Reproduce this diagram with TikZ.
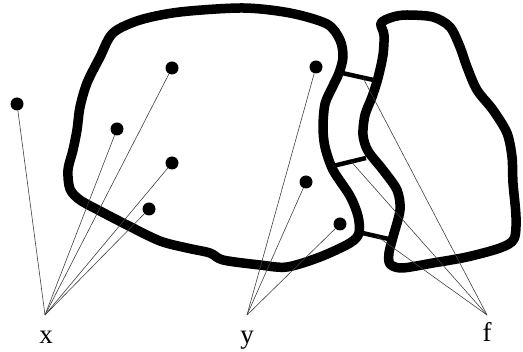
\documentclass[tikz,border=0pt]{standalone}
\usepackage{fontspec}
\setmainfont{Liberation Serif}
\begin{document}
\begin{tikzpicture}[x=1pt,y=-1pt,
  blob/.style={line width=9.5pt,line join=round,line cap=round},
  bar/.style={line width=4.5pt},
  dot/.style={circle,fill=black,inner sep=0pt,minimum size=13pt},
  thin/.style={line width=0.6pt,draw=black!75},
  lbl/.style={font=\fontsize{27}{30}\selectfont,inner sep=0pt}]
\useasboundingbox (0,0) rectangle (523,352);
% left blob
\draw[blob] plot[smooth cycle,tension=0.5] coordinates {
 (113,33) (140,20) (180,12) (243,8) (290,13) (327,24) (340,40) (343,57) (339,73)
 (332,88) (325,104) (323,127) (325,147) (333,170) (350,196) (358,216) (359,233)
 (350,243) (320,257) (287,267) (260,265) (223,260) (210,253) (187,248) (160,241)
 (127,225) (100,211) (80,200) (70,189) (68,170) (73,150) (77,130) (80,107) (87,83) (100,57)};
% right blob
\draw[blob] plot[smooth cycle,tension=0.5] coordinates {
 (381,23) (393,17) (407,15) (433,17) (450,27) (460,47) (467,67) (477,90) (493,110)
 (507,133) (512,157) (513,183) (516,217) (514,239) (500,248) (467,257) (433,263)
 (402,268) (390,264) (389,253) (393,237) (400,210) (397,190) (383,170) (368,151)
 (363,135) (365,115) (372,97) (378,78) (383,55) (384,35)};
% bars
\coordinate (t1) at (342,73); \coordinate (t2) at (378,81);
\coordinate (m1) at (333,166); \coordinate (m2) at (366,158);
\coordinate (b1) at (358,232); \coordinate (b2) at (393,240);
\draw[bar] (t1) -- coordinate[pos=0.58] (tm) (t2);
\draw[bar] (m1) -- coordinate[pos=0.55] (mm) (m2);
\draw[bar] (b1) -- coordinate[pos=0.55] (bm) (b2);
% dots
\node[dot] (d1) at (17,104) {};
\node[dot] (d2) at (172,68) {};
\node[dot] (d3) at (117,129) {};
\node[dot] (d4) at (172,163) {};
\node[dot] (d5) at (149,209) {};
\node[dot] (e1) at (316,67) {};
\node[dot] (e2) at (306,182) {};
\node[dot] (e3) at (340,224) {};
% apexes and labels
\coordinate (xa) at (45,315);
\coordinate (ya) at (247,315);
\coordinate (fa) at (487,315);
\node[lbl,anchor=base] (x) at (46,344) {x};
\node[lbl,anchor=base] (y) at (247,344) {y};
\node[lbl,anchor=base] (f) at (487,342) {f};
% connectors
\foreach \d in {d1,d2,d3,d4,d5} \draw[thin] (\d) -- (xa);
\foreach \d in {e1,e2,e3} \draw[thin] (\d) -- (ya);
\foreach \d in {tm,mm,bm} \draw[thin] (\d) -- (fa);
\end{tikzpicture}
\end{document}
